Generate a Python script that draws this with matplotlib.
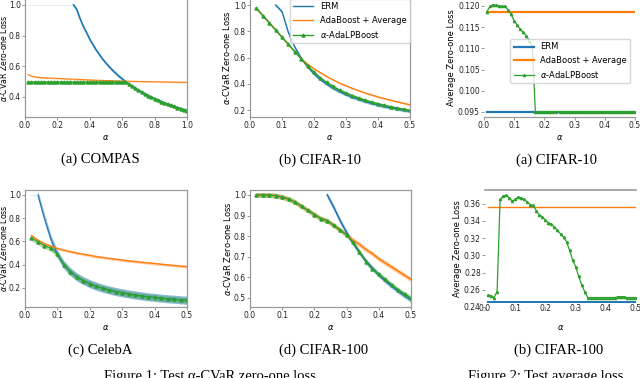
import numpy as np
import matplotlib
matplotlib.use("Agg")
import matplotlib.pyplot as plt

# ---- data ----
# alpha grids
alpha_compas = np.round(np.arange(1, 51) * 0.02, 2)      # 0.02 .. 1.00
alpha_half = np.round(np.arange(1, 26) * 0.02, 2)        # 0.02 .. 0.50
alpha_avg = np.round(np.arange(1, 51) * 0.01, 2)         # 0.01 .. 0.50

nan = np.nan

compas_erm = [nan] * 14 + [1.0,
              0.97, 0.91, 0.86, 0.82, 0.775, 0.74, 0.705, 0.675, 0.645, 0.62,
              0.596, 0.574, 0.554, 0.534, 0.517, 0.50, 0.484, 0.47, 0.456, 0.443,
              0.431, 0.419, 0.408, 0.397, 0.388, 0.378, 0.369, 0.36, 0.352, 0.344,
              0.337, 0.33, 0.323, 0.316, 0.31]
compas_ada = [0.545, 0.535, 0.53, 0.527, 0.525, 0.524, 0.523, 0.522, 0.521, 0.52,
              0.519, 0.518, 0.517, 0.516, 0.515, 0.514, 0.513, 0.512, 0.511, 0.51,
              0.509, 0.508, 0.508, 0.507, 0.506, 0.506, 0.505, 0.504, 0.504, 0.503,
              0.502, 0.502, 0.501, 0.501, 0.5, 0.5, 0.499, 0.499, 0.498, 0.498,
              0.498, 0.497, 0.497, 0.497, 0.496, 0.496, 0.496, 0.495, 0.495, 0.495]
compas_lp = [0.496] * 31 + [0.484, 0.47, 0.456, 0.443, 0.431, 0.419, 0.408, 0.397, 0.388,
                            0.378, 0.369, 0.36, 0.352, 0.344, 0.337, 0.33, 0.323, 0.316, 0.31]

c10_erm = [nan, nan, nan, 1.0, 0.95, 0.79, 0.68, 0.595, 0.53, 0.475,
           0.432, 0.396, 0.365, 0.34, 0.317, 0.297, 0.28, 0.264, 0.25, 0.238,
           0.226, 0.216, 0.207, 0.198, 0.19]
c10_ada = [0.975, 0.92, 0.865, 0.81, 0.755, 0.70, 0.645, 0.59, 0.55, 0.515,
           0.485, 0.455, 0.43, 0.405, 0.385, 0.365, 0.347, 0.33, 0.315, 0.30,
           0.287, 0.275, 0.263, 0.251, 0.24]
c10_lp = [0.975, 0.92, 0.865, 0.81, 0.755, 0.70, 0.645, 0.59, 0.535, 0.49,
          0.445, 0.41, 0.38, 0.352, 0.33, 0.31, 0.292, 0.275, 0.261, 0.248,
          0.236, 0.225, 0.215, 0.206, 0.197]

celeba_erm = [nan, 1.0, 0.80, 0.62, 0.49, 0.40, 0.34, 0.295, 0.263, 0.237,
              0.215, 0.197, 0.182, 0.169, 0.158, 0.148, 0.139, 0.131, 0.124, 0.118,
              0.112, 0.107, 0.103, 0.098, 0.094]
celeba_ada = [0.65, 0.61, 0.58, 0.56, 0.54, 0.525, 0.512, 0.50, 0.49, 0.48,
              0.47, 0.462, 0.454, 0.447, 0.44, 0.433, 0.427, 0.421, 0.415, 0.41,
              0.404, 0.398, 0.393, 0.388, 0.383]
celeba_lp = [0.63, 0.595, 0.565, 0.54, 0.49, 0.40, 0.34, 0.295, 0.263, 0.237,
             0.215, 0.197, 0.182, 0.169, 0.158, 0.148, 0.139, 0.131, 0.124, 0.118,
             0.112, 0.107, 0.103, 0.098, 0.094]

c100_erm = [nan] * 11 + [1.0, 0.94, 0.875, 0.818, 0.766, 0.72, 0.68, 0.645, 0.612,
                         0.583, 0.557, 0.533, 0.51, 0.49]
c100_ada = [1.0, 1.0, 0.999, 0.997, 0.99, 0.98, 0.965, 0.945, 0.925, 0.905,
            0.885, 0.875, 0.852, 0.83, 0.806, 0.78, 0.76, 0.735, 0.715, 0.69,
            0.67, 0.65, 0.63, 0.61, 0.59]
c100_lp = [1.0, 1.0, 0.999, 0.997, 0.99, 0.98, 0.965, 0.945, 0.925, 0.905,
           0.885, 0.875, 0.852, 0.83, 0.806, 0.77, 0.725, 0.675, 0.64, 0.615,
           0.59, 0.565, 0.54, 0.52, 0.50]

c10_avg_erm = 0.095
c10_avg_ada = 0.1185
c10_avg_lp = [0.1187, 0.1200, 0.1203, 0.1202, 0.1200, 0.1199, 0.1200, 0.1190, 0.1180, 0.1165,
              0.1155, 0.1145, 0.1138, 0.1130, 0.1118, 0.1105, 0.0951] + [0.0951] * 33

c100_avg_erm = 0.246
c100_avg_ada = 0.356
c100_avg_lp = [0.254, 0.253, 0.251, 0.258, 0.365, 0.369, 0.370, 0.367, 0.363, 0.365,
               0.368, 0.367, 0.365, 0.362, 0.359, 0.358, 0.352, 0.347, 0.345, 0.341,
               0.338, 0.336, 0.333, 0.329, 0.325, 0.321, 0.316, 0.306, 0.295, 0.287,
               0.276, 0.266, 0.258, 0.251, 0.251, 0.251, 0.251, 0.251, 0.251, 0.251,
               0.251, 0.251, 0.251, 0.252, 0.252, 0.252, 0.251, 0.251, 0.251, 0.251]

BLUE, ORANGE, GREEN = "tab:blue", "tab:orange", "tab:green"
W, H = 640, 378

fig = plt.figure(figsize=(6.4, 3.78), dpi=100)


def make_ax(l, t, r, b):
    # pixel box -> figure fraction
    ax = fig.add_axes([l / W, 1 - b / H, (r - l) / W, (b - t) / H])
    ax.tick_params(labelsize=5.5, length=2, width=0.6, color="#888", pad=1, labelcolor="#222")
    for s in ax.spines.values():
        s.set_color("#999")
        s.set_linewidth(0.9)
    ax.set_xlabel(r"$\alpha$", fontsize=6)
    ax.xaxis.set_label_coords(0.5, -16.5 / (b - t))
    return ax


def band(ax, x, y, spread, color, lw=1.0, alpha=0.35, **kw):
    y = np.array(y, dtype=float)
    ax.fill_between(x, y - spread, y + spread, color=color, alpha=alpha, lw=0)
    return ax.plot(x, y, color=color, lw=lw, **kw)


mk = dict(marker="^", markersize=2.2)

# ---- top row ----
ax1 = make_ax(25, -1, 187, 117)
ax1.plot([0.02, 0.3], [1.0, 1.0], color=BLUE, lw=0.8, alpha=0.12)
band(ax1, alpha_compas, compas_erm, 0.01, BLUE, lw=1.2)
band(ax1, alpha_compas, compas_ada, 0.004, ORANGE, lw=0.8)
band(ax1, alpha_compas, compas_lp, 0.004, GREEN, lw=1.0, **mk)
ax1.set_xlim(0, 1.0)
ax1.set_ylim(0.268, 1.039)
ax1.set_yticks([0.4, 0.6, 0.8, 1.0])
ax1.spines["top"].set_visible(False)
ax1.set_ylabel(r"$\alpha$-CVaR Zero-one Loss", fontsize=5.6)
ax1.yaxis.set_label_coords(-15.5 / 162, 0.5)

ax2 = make_ax(250, -1, 410, 117)
band(ax2, alpha_half, c10_erm, 0.012, BLUE, label="ERM")
band(ax2, alpha_half, c10_ada, 0.006, ORANGE, label="AdaBoost + Average")
band(ax2, alpha_half, c10_lp, 0.01, GREEN, label=r"$\alpha$-AdaLPBoost", **mk)
ax2.set_xlim(0, 0.5)
ax2.set_ylim(0.147, 1.046)
ax2.set_yticks([0.2, 0.4, 0.6, 0.8, 1.0])
ax2.spines["top"].set_visible(False)
ax2.set_ylabel(r"$\alpha$-CVaR Zero-one Loss", fontsize=6)
ax2.yaxis.set_label_coords(-18 / 160, 0.5)
ax2.legend(fontsize=6, loc="upper right", bbox_to_anchor=(1, 1), borderaxespad=0,
           handlelength=2.4, edgecolor="#ccc")

ax3 = make_ax(484, -1, 635, 117)
ax3.plot(alpha_avg, [c10_avg_erm] * len(alpha_avg), color=BLUE, lw=1.6, label="ERM")
ax3.plot(alpha_avg, [c10_avg_ada] * len(alpha_avg), color=ORANGE, lw=1.6, label="AdaBoost + Average")
ax3.plot(alpha_avg, c10_avg_lp, color=GREEN, lw=0.9, label=r"$\alpha$-AdaLPBoost",
         marker="^", markersize=1.6)
ax3.set_xlim(0, 0.5)
ax3.set_ylim(0.09382, 0.12165)
ax3.set_yticks([0.095, 0.100, 0.105, 0.110, 0.115, 0.120])
ax3.set_yticklabels(["0.095", "0.100", "0.105", "0.110", "0.115", "0.120"])
for s in ["top", "left", "right"]:
    ax3.spines[s].set_visible(False)
ax3.set_ylabel("Average Zero-one Loss", fontsize=6)
ax3.yaxis.set_label_coords(-28 / 151, 0.5)
ax3.legend(fontsize=6, loc="upper right", bbox_to_anchor=(0.97, 0.66), borderaxespad=0,
           handlelength=2.4, edgecolor="#ccc")

# ---- bottom row ----
ax4 = make_ax(25, 190, 187, 307)
ax4.plot([0.02, 0.04], [1.0, 1.0], color=BLUE, lw=0.8, alpha=0.15)
band(ax4, alpha_half, celeba_erm, 0.035, BLUE, lw=0.8, alpha=0.5)
band(ax4, alpha_half, celeba_ada, 0.012, ORANGE)
band(ax4, alpha_half, celeba_lp, 0.025, GREEN, lw=0.8, **mk)
ax4.set_xlim(0, 0.5)
ax4.set_ylim(0.036, 1.043)
ax4.set_yticks([0.2, 0.4, 0.6, 0.8, 1.0])
ax4.set_ylabel(r"$\alpha$-CVaR Zero-one Loss", fontsize=5.6)
ax4.yaxis.set_label_coords(-15.5 / 162, 0.5)

ax5 = make_ax(250, 190, 411, 307)
band(ax5, alpha_half, c100_erm, 0.012, BLUE, lw=1.2)
band(ax5, alpha_half, c100_ada, 0.012, ORANGE, lw=1.2)
band(ax5, alpha_half, c100_lp, 0.012, GREEN, lw=0.9, **mk)
ax5.set_xlim(0, 0.5)
ax5.set_ylim(0.456, 1.024)
ax5.set_yticks([0.5, 0.6, 0.7, 0.8, 0.9, 1.0])
ax5.set_ylabel(r"$\alpha$-CVaR Zero-one Loss", fontsize=6)
ax5.yaxis.set_label_coords(-17 / 161, 0.5)

ax6 = make_ax(485, 190, 636, 307)
ax6.plot(alpha_avg, [c100_avg_erm] * len(alpha_avg), color=BLUE, lw=1.4)
ax6.plot(alpha_avg, [c100_avg_ada] * len(alpha_avg), color=ORANGE, lw=1.0)
ax6.plot(alpha_avg, c100_avg_lp, color=GREEN, lw=0.9, marker="^", markersize=1.6)
ax6.set_xlim(0, 0.5)
ax6.set_ylim(0.24, 0.376)
ax6.set_yticks([0.24, 0.26, 0.28, 0.30, 0.32, 0.34, 0.36])
for s in ["bottom", "left", "right"]:
    ax6.spines[s].set_visible(False)
ax6.spines["top"].set_color("#999")
ax6.spines["top"].set_linewidth(1.2)
ax6.tick_params(axis="x", pad=-4)
ax6.set_ylabel("Average Zero-one Loss", fontsize=6)
ax6.yaxis.set_label_coords(-23 / 151, 0.5)

# ---- sub-captions ----
serif = dict(family="Liberation Serif", fontsize=10.5, ha="center", va="center")
for x, y, txt in [(100, 159, "(a) COMPAS"), (320, 160, "(b) CIFAR-10"), (557, 160, "(a) CIFAR-10"),
                  (100, 350, "(c) CelebA"), (324, 350, "(d) CIFAR-100"), (559, 350, "(b) CIFAR-100")]:
    fig.text(x / W, 1 - y / H, txt, **serif)

fig.text(210 / W, 1 - 380 / H, "Figure 1: Test α-CVaR zero-one loss", family="Liberation Serif",
         fontsize=10.5, ha="center", va="baseline")
fig.text(546 / W, 1 - 380 / H, "Figure 2: Test average loss", family="Liberation Serif",
         fontsize=10.5, ha="center", va="baseline")

fig.savefig("out.png", dpi=100)
